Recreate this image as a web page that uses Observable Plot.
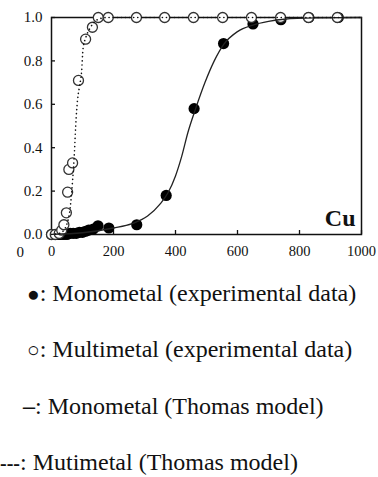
<!DOCTYPE html>
<html>
<head>
<meta charset="utf-8">
<script src="https://cdn.jsdelivr.net/npm/d3@7"></script>
<script src="https://cdn.jsdelivr.net/npm/@observablehq/plot@0.6"></script>
<style>
  body { margin: 0; background: #fff; }
  #chart { position: relative; width: 378px; height: 477px; overflow: hidden; font-family: "Liberation Serif", "Times New Roman", serif; color: #111; }
  #chart svg { position: absolute; left: 0; top: 0; }
  .key { position: absolute; font-size: 24px; line-height: 24px; white-space: nowrap; }
  .sym { font-size: 21px; }
  .bar { font-weight: bold; }
  .dashes { font-size: 20px; font-weight: bold; }
</style>
</head>
<body>
<div id="chart"></div>
<script>
// Cu breakthrough curves: C/C0 against time, single-metal vs multi-metal solution

// Monometal, experimental points
const monoTime  = [0, 10, 20, 30, 40, 50, 60, 70, 80, 90, 100, 110, 120, 135, 150, 185, 275, 370, 460, 555, 650, 740, 830, 925];
const monoRatio = [0, 0, 0, 0, 0, 0, 0.005, 0.005, 0.005, 0.01, 0.01, 0.015, 0.02, 0.025, 0.04, 0.03, 0.045, 0.18, 0.58, 0.88, 0.97, 0.99, 1.0, 1.0];

// Multimetal, experimental points
const multiTime  = [0, 12, 25, 33, 40, 48, 52, 56, 68, 87, 110, 132, 151, 183, 274, 365, 458, 552, 645, 739, 829, 922];
const multiRatio = [0, 0, 0.005, 0.02, 0.045, 0.10, 0.195, 0.30, 0.33, 0.71, 0.90, 0.955, 1, 1, 1, 1, 1, 1, 1, 1, 1, 1];

// Thomas model, monometal
const monoModelTime  = [0, 100, 200, 260, 310, 350, 375, 400, 420, 440, 465, 495, 525, 555, 600, 650, 700, 750, 850, 1000];
const monoModelRatio = [0.001, 0.008, 0.03, 0.05, 0.085, 0.14, 0.19, 0.27, 0.36, 0.47, 0.58, 0.70, 0.80, 0.875, 0.935, 0.965, 0.982, 0.992, 0.998, 1.0];

// Thomas model, multimetal
const multiModelTime  = [0, 25, 40, 50, 60, 68, 74, 78, 84, 90, 97, 102, 110, 126, 148, 180, 300, 1000];
const multiModelRatio = [0, 0.005, 0.02, 0.05, 0.12, 0.25, 0.38, 0.50, 0.62, 0.68, 0.75, 0.86, 0.905, 0.955, 0.99, 1.0, 1.0, 1.0];

const xTicks = [0, 200, 400, 600, 800, 1000];
const yTicks = [0, 0.2, 0.4, 0.6, 0.8, 1.0];

const legendItems = [
  {sym: "●", text: ": Monometal (experimental data)", left: 27, top: 281, symClass: "sym"},
  {sym: "○", text: ": Multimetal (experimental data)", left: 27, top: 337, symClass: "sym"},
  {sym: "–", text: ": Monometal (Thomas model)", left: 23, top: 394, symClass: "bar"},
  {sym: "---", text: ": Mutimetal (Thomas model)", left: 0, top: 450, symClass: "dashes"}
];

const zip = (xs, ys) => xs.map((x, i) => ({x, y: ys[i]}));
const mono = zip(monoTime, monoRatio);
const multi = zip(multiTime, multiRatio);
const monoModel = zip(monoModelTime, monoModelRatio);
const multiModel = zip(multiModelTime, multiModelRatio);

const plot = Plot.plot({
  width: 378,
  height: 270,
  marginLeft: 51,
  marginRight: 17,
  marginTop: 17,
  marginBottom: 36,
  style: {fontFamily: "'Liberation Serif', 'Times New Roman', serif", fontSize: "15px", color: "#111", background: "white", overflow: "visible"},
  x: {domain: [0, 1000]},
  y: {domain: [0, 1]},
  marks: [
    Plot.frame({stroke: "#111", strokeWidth: 1.5}),
    Plot.axisX({ticks: xTicks, tickSize: -4, tickPadding: 15, tickFormat: d3.format("d"), label: null, strokeWidth: 1.3, fontSize: 14.5}),
    Plot.axisY({ticks: yTicks, tickSize: -4, tickPadding: 13, tickFormat: d3.format(".1f"), label: null, strokeWidth: 1.3, fontSize: 15}),
    Plot.text(["0"], {text: d => d, frameAnchor: "bottom-left", dx: -35, dy: 22, fontSize: 15}),
    Plot.dot(mono, {x: "x", y: "y", r: 5.6, fill: "#000"}),
    Plot.dot(multi, {x: "x", y: "y", r: 5, fill: "white", stroke: "#333", strokeWidth: 1.3}),
    Plot.line(monoModel, {x: "x", y: "y", stroke: "#222", strokeWidth: 1.3, curve: "monotone-x"}),
    Plot.line(multiModel, {x: "x", y: "y", stroke: "#111", strokeWidth: 1.6, strokeDasharray: "0.1,4", strokeLinecap: "round", curve: "monotone-x"}),
    Plot.text(["Cu"], {text: d => d, frameAnchor: "bottom-right", dx: -6, dy: -9, lineAnchor: "bottom", textAnchor: "end", fontWeight: "bold", fontSize: 24})
  ]
});

const chart = document.getElementById("chart");
chart.appendChild(plot);

for (const item of legendItems) {
  const div = document.createElement("div");
  div.className = "key";
  div.style.left = item.left + "px";
  div.style.top = item.top + "px";
  const s = document.createElement("span");
  if (item.symClass) s.className = item.symClass;
  s.textContent = item.sym;
  div.appendChild(s);
  div.appendChild(document.createTextNode(item.text));
  chart.appendChild(div);
}
</script>
</body>
</html>
